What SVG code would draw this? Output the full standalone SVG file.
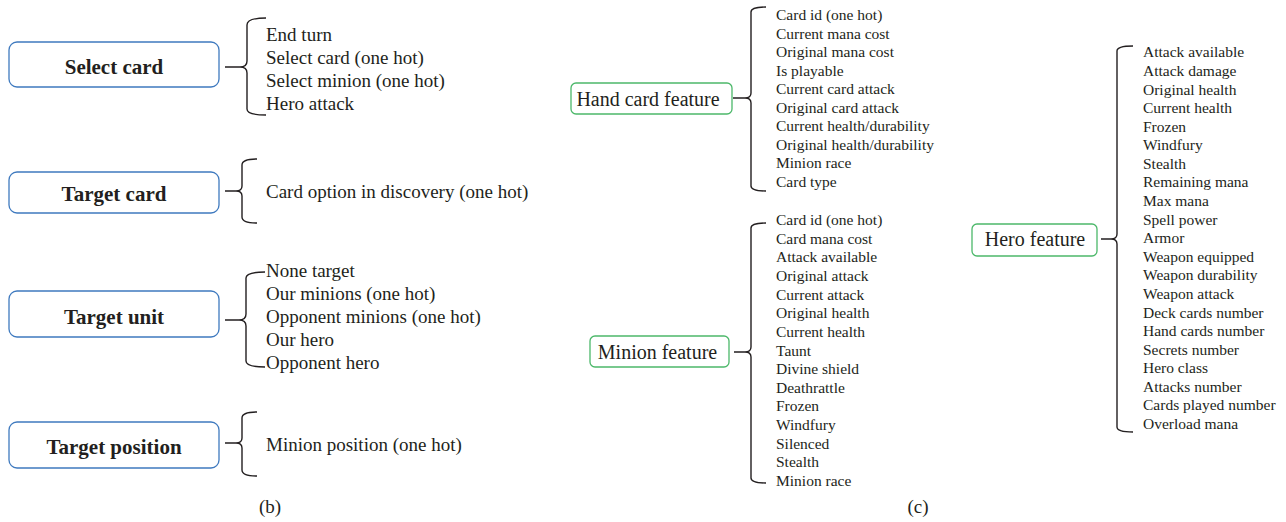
<svg xmlns="http://www.w3.org/2000/svg" width="1286" height="522" viewBox="0 0 1286 522">
<style>
text{font-family:"Liberation Serif","Times New Roman",serif;fill:#231f20}
.bbox{fill:#fff;stroke:#3f7abf;stroke-width:1.3}
.gbox{fill:#fff;stroke:#4cb86a;stroke-width:1.3}
.lbl{font-size:21px;font-weight:bold;text-anchor:middle}
.glbl{font-size:20px;text-anchor:middle}
.item{font-size:19px}
.sitem{font-size:15.5px}
.cap{font-size:19px;text-anchor:middle}
.br{fill:none;stroke:#231f20;stroke-width:1.4}
</style>
<rect width="1286" height="522" fill="#fff"/>
<g id="connectors">
<path class="br" d="M225,67 L240,67 M266,18 Q247,18 247,25 L247,61 Q247,67 240,67 Q247,67 247,73 L247,109 Q247,115 266,115"/>
<path class="br" d="M225,191 L236,191 M257,159 Q242,159 242,165 L242,186 Q242,191 236,191 Q242,191 242,196 L242,217 Q242,223 257,223"/>
<path class="br" d="M225,320 L239,320 M265,272 Q246,272 246,278 L246,314 Q246,320 239,320 Q246,320 246,326 L246,361 Q246,367 265,367"/>
<path class="br" d="M225,443 L236,443 M257,412 Q242,412 242,418 L242,438 Q242,443 236,443 Q242,443 242,448 L242,470 Q242,476 257,476"/>
<path class="br" d="M733,98 L745,98 M766,7 Q751,7 751,12 L751,93 Q751,98 745,98 Q751,98 751,103 L751,186 Q751,191 766,191"/>
<path class="br" d="M734,352 L745,352 M766,223 Q751,223 751,228 L751,347 Q751,352 745,352 Q751,352 751,357 L751,478 Q751,483 766,483"/>
<path class="br" d="M1101,239 L1111,239 M1133,46 Q1117,46 1117,51 L1117,234 Q1117,239 1111,239 Q1117,239 1117,244 L1117,427 Q1117,432 1133,432"/>
</g>
<g id="select-card">
<rect class="bbox" x="9" y="42" width="210" height="45" rx="8"/>
<text class="lbl" x="114" y="74">Select card</text>
<text class="item" x="266" y="41">End turn</text>
<text class="item" x="266" y="64">Select card (one hot)</text>
<text class="item" x="266" y="87">Select minion (one hot)</text>
<text class="item" x="266" y="110">Hero attack</text>
</g>
<g id="target-card">
<rect class="bbox" x="9" y="172" width="210" height="41" rx="8"/>
<text class="lbl" x="114" y="201">Target card</text>
<text class="item" x="266" y="198">Card option in discovery (one hot)</text>
</g>
<g id="target-unit">
<rect class="bbox" x="9" y="291" width="210" height="46" rx="8"/>
<text class="lbl" x="114" y="324">Target unit</text>
<text class="item" x="266" y="277">None target</text>
<text class="item" x="266" y="300">Our minions (one hot)</text>
<text class="item" x="266" y="323">Opponent minions (one hot)</text>
<text class="item" x="266" y="346">Our hero</text>
<text class="item" x="266" y="369">Opponent hero</text>
</g>
<g id="target-position">
<rect class="bbox" x="9" y="422" width="210" height="46" rx="8"/>
<text class="lbl" x="114" y="454">Target position</text>
<text class="item" x="266" y="451">Minion position (one hot)</text>
</g>
<text class="cap" x="270" y="513">(b)</text>
<g id="hand-card-feature">
<rect class="gbox" x="571" y="83" width="161" height="31" rx="5"/>
<text class="glbl" x="648" y="106">Hand card feature</text>
<g class="sitem">
<text class="sitem" x="776" y="20">Card id (one hot)</text>
<text class="sitem" x="776" y="38.5">Current mana cost</text>
<text class="sitem" x="776" y="57">Original mana cost</text>
<text class="sitem" x="776" y="75.6">Is playable</text>
<text class="sitem" x="776" y="94.2">Current card attack</text>
<text class="sitem" x="776" y="112.7">Original card attack</text>
<text class="sitem" x="776" y="131.3">Current health/durability</text>
<text class="sitem" x="776" y="149.8">Original health/durability</text>
<text class="sitem" x="776" y="168.4">Minion race</text>
<text class="sitem" x="776" y="187">Card type</text>
</g>
</g>
<g id="minion-feature">
<rect class="gbox" x="590" y="336" width="139" height="31" rx="5"/>
<text class="glbl" x="657.5" y="359">Minion feature</text>
<text class="sitem" x="776" y="225">Card id (one hot)</text>
<text class="sitem" x="776" y="243.6">Card mana cost</text>
<text class="sitem" x="776" y="262.3">Attack available</text>
<text class="sitem" x="776" y="280.9">Original attack</text>
<text class="sitem" x="776" y="299.6">Current attack</text>
<text class="sitem" x="776" y="318.2">Original health</text>
<text class="sitem" x="776" y="336.8">Current health</text>
<text class="sitem" x="776" y="355.5">Taunt</text>
<text class="sitem" x="776" y="374.1">Divine shield</text>
<text class="sitem" x="776" y="392.8">Deathrattle</text>
<text class="sitem" x="776" y="411.4">Frozen</text>
<text class="sitem" x="776" y="430">Windfury</text>
<text class="sitem" x="776" y="448.7">Silenced</text>
<text class="sitem" x="776" y="467.3">Stealth</text>
<text class="sitem" x="776" y="486">Minion race</text>
</g>
<g id="hero-feature">
<rect class="gbox" x="972" y="224" width="125" height="32" rx="5"/>
<text class="glbl" x="1035" y="246">Hero feature</text>
<text class="sitem" x="1143" y="57.3">Attack available</text>
<text class="sitem" x="1143" y="75.9">Attack damage</text>
<text class="sitem" x="1143" y="94.5">Original health</text>
<text class="sitem" x="1143" y="113.1">Current health</text>
<text class="sitem" x="1143" y="131.6">Frozen</text>
<text class="sitem" x="1143" y="150.2">Windfury</text>
<text class="sitem" x="1143" y="168.8">Stealth</text>
<text class="sitem" x="1143" y="187.4">Remaining mana</text>
<text class="sitem" x="1143" y="206">Max mana</text>
<text class="sitem" x="1143" y="224.6">Spell power</text>
<text class="sitem" x="1143" y="243.2">Armor</text>
<text class="sitem" x="1143" y="261.7">Weapon equipped</text>
<text class="sitem" x="1143" y="280.3">Weapon durability</text>
<text class="sitem" x="1143" y="298.9">Weapon attack</text>
<text class="sitem" x="1143" y="317.5">Deck cards number</text>
<text class="sitem" x="1143" y="336.1">Hand cards number</text>
<text class="sitem" x="1143" y="354.7">Secrets number</text>
<text class="sitem" x="1143" y="373.3">Hero class</text>
<text class="sitem" x="1143" y="391.8">Attacks number</text>
<text class="sitem" x="1143" y="410.4">Cards played number</text>
<text class="sitem" x="1143" y="429">Overload mana</text>
</g>
<text class="cap" x="918" y="513">(c)</text>
</svg>
